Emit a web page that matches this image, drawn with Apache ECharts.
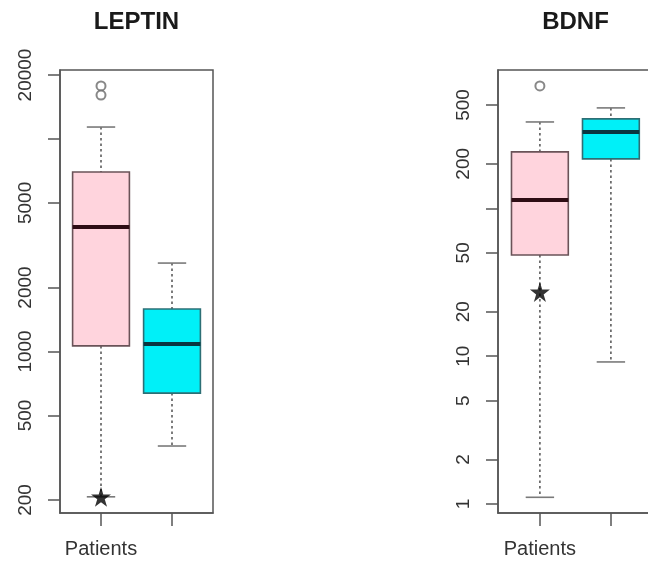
<!DOCTYPE html>
<html><head><meta charset="utf-8">
<script src="https://cdn.jsdelivr.net/npm/echarts@6/dist/echarts.min.js"></script>
<style>html,body{margin:0;padding:0;background:#fff}#c{width:648px;height:561px}</style>
</head><body><div id="c"></div>
<script>
const panels = ['LEPTIN', 'BDNF'];
const groups = ['Patients', 'Controls'];
// per group: [lowWhisker, q1, median, q3, highWhisker]
const leptinStats = [[207, 1062, 3854, 6993, 11380], [359, 637, 1084, 1584, 2606]];
const leptinOutliers = [[1, 17760], [1, 16100]];
const leptinStars = [[1, 207]];
const bdnfStats = [[1.11, 48.4, 114, 241, 384], [9.14, 216, 329, 403, 478]];
const bdnfOutliers = [[1, 673]];
const bdnfStars = [[1, 27.2]];
const leptinTicks = [200, 500, 1000, 2000, 5000, 10000, 20000];
const leptinLabels = [200, 500, 1000, 2000, 5000, 20000];
const bdnfTicks = [1, 2, 5, 10, 20, 50, 100, 200, 500];
const bdnfLabels = [1, 2, 5, 10, 20, 50, 200, 500];

const L = Math.log10;
const fills = ['#ffd4dd', '#00f0f8'];
const borders = ['#6a5358', '#2d6f75'];
const medians = ['#2e0d14', '#0a3640'];
const STAR = 'path://M50,0 L61,35 L98,35 L68,57 L79,91 L50,70 L21,91 L32,57 L2,35 L39,35 Z';

function boxRender(params, api) {
  const x = api.value(0);
  const idx = Math.round(x) - 1;
  const pLo = api.coord([x, api.value(1)]);
  const pQ1 = api.coord([x, api.value(2)]);
  const pMed = api.coord([x, api.value(3)]);
  const pQ3 = api.coord([x, api.value(4)]);
  const pHi = api.coord([x, api.value(5)]);
  const bw = api.size([0.8, 0])[0];
  const cw = bw / 2;
  const cx = pMed[0];
  const dash = {stroke: '#666', lineWidth: 1.7, lineDash: [2.5, 3]};
  const cap = {stroke: '#7a7a7a', lineWidth: 1.6};
  return {type: 'group', children: [
    {type: 'line', shape: {x1: cx, y1: pHi[1], x2: cx, y2: pQ3[1]}, style: dash},
    {type: 'line', shape: {x1: cx, y1: pQ1[1], x2: cx, y2: pLo[1]}, style: dash},
    {type: 'line', shape: {x1: cx - cw / 2, y1: pHi[1], x2: cx + cw / 2, y2: pHi[1]}, style: cap},
    {type: 'line', shape: {x1: cx - cw / 2, y1: pLo[1], x2: cx + cw / 2, y2: pLo[1]}, style: cap},
    {type: 'rect', shape: {x: cx - bw / 2, y: pQ3[1], width: bw, height: pQ1[1] - pQ3[1]},
      style: {fill: fills[idx], stroke: borders[idx], lineWidth: 1.6}},
    {type: 'line', shape: {x1: cx - bw / 2, y1: pMed[1], x2: cx + bw / 2, y2: pMed[1]},
      style: {stroke: medians[idx], lineWidth: 4}}
  ]};
}

const cfg = [
  {stats: leptinStats, outl: leptinOutliers, stars: leptinStars, ticks: leptinTicks, labels: leptinLabels,
   grid: {left: 60, top: 70, width: 153, height: 443}, xmin: 0.4225, xmax: 2.5775, ymin: 2.23985, ymax: 4.32456, cx: 136.5},
  {stats: bdnfStats, outl: bdnfOutliers, stars: bdnfStars, ticks: bdnfTicks, labels: bdnfLabels,
   grid: {left: 498, top: 70, width: 155, height: 443}, xmin: 0.41, xmax: 2.593, ymin: -0.0609, ymax: 2.9358, cx: 575.5}
];

const option = {
  animation: false,
  backgroundColor: '#fff',
  textStyle: {fontFamily: 'Liberation Sans, Arial, sans-serif'},
  title: cfg.map((c, i) => ({text: panels[i], left: c.cx, top: 10, textAlign: 'center', padding: 0,
    textStyle: {fontSize: 24, fontWeight: 'bold', color: '#1a1a1a', fontFamily: 'Liberation Sans'}})),
  grid: cfg.map(c => Object.assign({show: true, borderColor: '#555', borderWidth: 1.5,
    containLabel: false, outerBoundsMode: 'none'}, c.grid)),
  xAxis: cfg.map((c, i) => ({
    gridIndex: i, type: 'value', min: c.xmin, max: c.xmax,
    splitLine: {show: false},
    axisLine: {show: true, onZero: false, lineStyle: {color: '#555', width: 1.5}},
    axisTick: {show: true, length: 13, customValues: [1, 2], lineStyle: {color: '#555', width: 1.5}},
    axisLabel: {customValues: [1], formatter: v => groups[Math.round(v) - 1], fontSize: 20, color: '#333', margin: 26}
  })),
  yAxis: cfg.map((c, i) => ({
    gridIndex: i, type: 'value', min: c.ymin, max: c.ymax,
    splitLine: {show: false},
    axisLine: {show: true, onZero: false, lineStyle: {color: '#555', width: 1.5}},
    axisTick: {show: true, length: 12, customValues: c.ticks.map(L), lineStyle: {color: '#555', width: 1.5}},
    axisLabel: {customValues: c.labels.map(L), formatter: v => String(Math.round(Math.pow(10, v))),
      rotate: 90, fontSize: 19, color: '#333', margin: 25}
  })),
  series: []
};

cfg.forEach((c, i) => {
  option.series.push({
    type: 'custom', xAxisIndex: i, yAxisIndex: i, renderItem: boxRender,
    encode: {x: 0, y: [1, 2, 3, 4, 5]},
    data: c.stats.map((s, g) => [g + 1].concat(s.map(L)))
  });
  option.series.push({
    type: 'scatter', xAxisIndex: i, yAxisIndex: i, symbol: 'emptyCircle', symbolSize: 9,
    itemStyle: {color: '#6a6a6a', borderColor: '#6a6a6a', borderWidth: 1.8},
    data: c.outl.map(p => [p[0], L(p[1])])
  });
  option.series.push({
    type: 'scatter', xAxisIndex: i, yAxisIndex: i, symbol: STAR, symbolSize: 20,
    itemStyle: {color: '#000'},
    data: c.stars.map(p => [p[0], L(p[1])])
  });
});

const chart = echarts.init(document.getElementById('c'), null, {renderer: 'canvas'});
chart.setOption(option);
</script>
</body></html>
